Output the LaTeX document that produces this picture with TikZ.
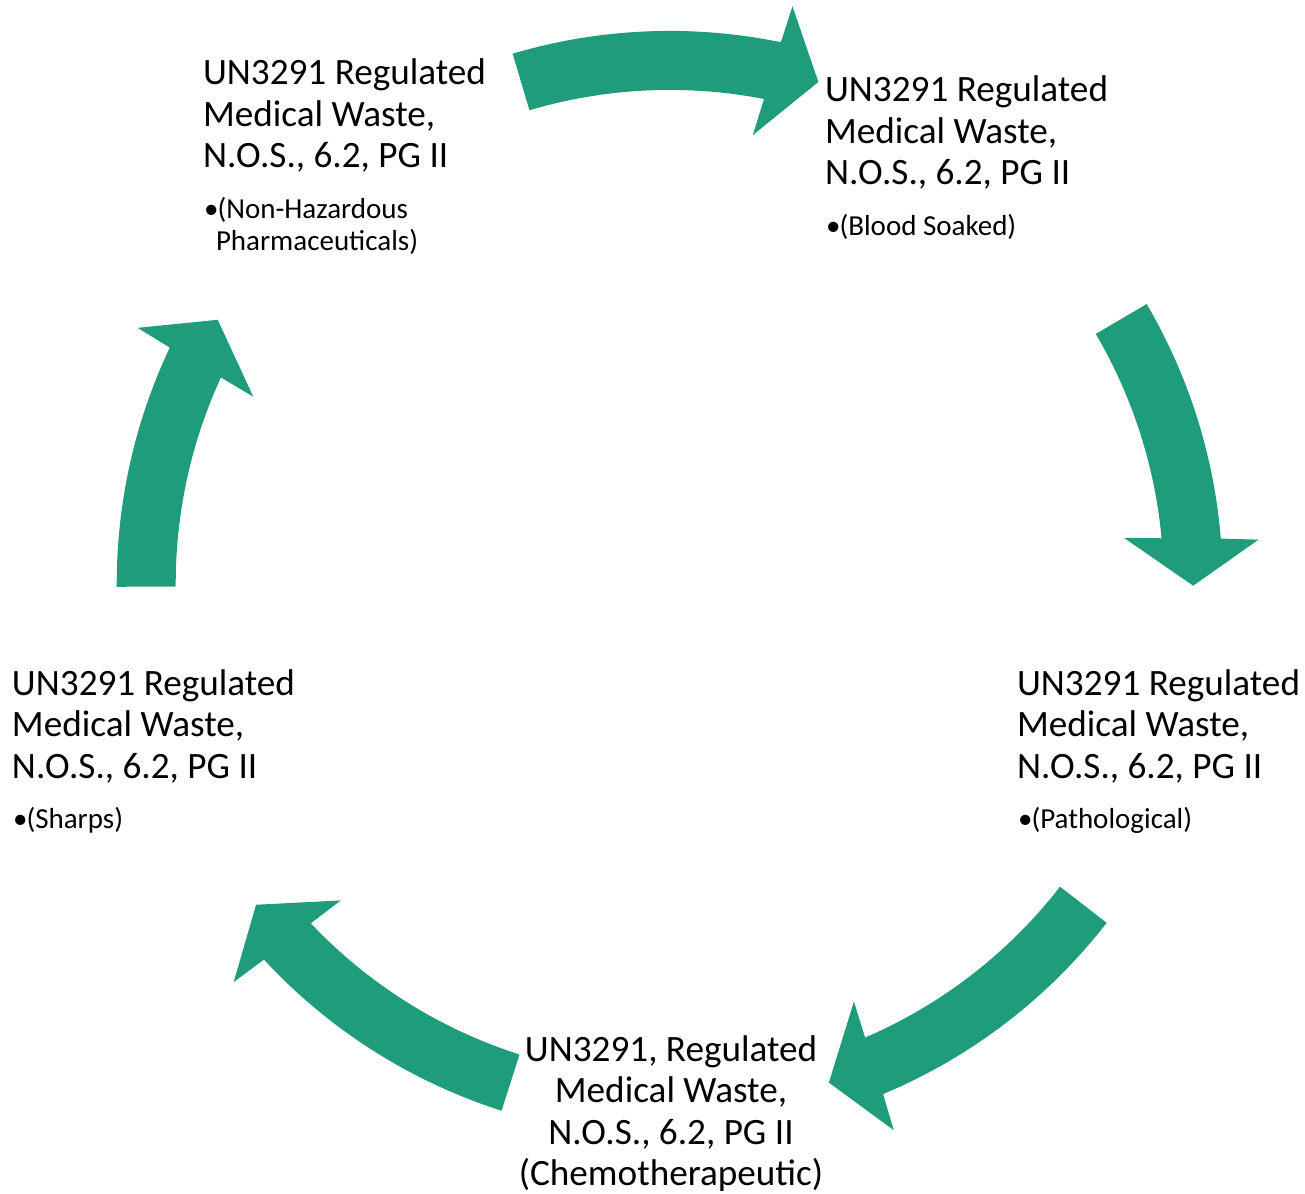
\documentclass[tikz,border=0pt]{standalone}
\usepackage{fontspec}
\setmainfont{Carlito}
\definecolor{cyclegreen}{RGB}{31,156,122}
\tikzset{
  maintxt/.style={inner sep=0pt, outer sep=0pt, font=\fontsize{37.2}{41.5}\selectfont, text=black},
  bullettxt/.style={inner sep=0pt, outer sep=0pt, font=\fontsize{29}{32}\selectfont, text=black},
  cyclearrow/.style={fill=cyclegreen, draw=none}
}
% \cyclearr{start}{neck}{tip}
\newcommand{\cyclearr}[3]{%
  \fill[cyclearrow]
    plot[domain=#1:#2+0.3, samples=40] ({\cx+(\R+\w)*cos(\x)},{\cy+(\R+\w)*sin(\x)})
    -- ({\cx+(\R+\W)*cos(#2+0.7)},{\cy+(\R+\W)*sin(#2+0.7)})
    -- ({\cx+\R*cos(#3)},{\cy+\R*sin(#3)})
    -- ({\cx+(\R-\W)*cos(#2-0.8)},{\cy+(\R-\W)*sin(#2-0.8)})
    -- plot[domain=#2-0.3:#1, samples=40] ({\cx+(\R-\w)*cos(\x)},{\cy+(\R-\w)*sin(\x)})
    -- cycle;}
\newcommand{\bul}{\makebox[13.5pt][l]{•}}
\begin{document}
\begin{tikzpicture}[x=1pt,y=-1pt]
\def\cx{669.7}\def\cy{583.9}\def\R{523.5}\def\w{29.5}\def\W{67}
\useasboundingbox[fill=white] (0,0) rectangle (1305,1193);
% arrows
\cyclearr{-106.5}{-78.7}{-73.5}
\cyclearr{-30.4}{-5.0}{0.2}
\cyclearr{37.8}{67.0}{72.3}
\cyclearr{107.7}{136.9}{142.2}
\cyclearr{179.7}{205.0}{210.3}
% texts
\node[maintxt, anchor=base west] (tl) at (203,85) {\parbox[t]{330pt}{UN3291 Regulated\\Medical Waste,\\N.O.S., 6.2, PG II}};
\node[bullettxt, anchor=base west] (tlb) at (204,218.3) {\parbox[t]{330pt}{\bul(Non-Hazardous\\\hspace*{12pt}Pharmaceuticals)}};
\node[maintxt, anchor=base west] (tr) at (825,101.7) {\parbox[t]{330pt}{UN3291 Regulated\\Medical Waste,\\N.O.S., 6.2, PG II}};
\node[bullettxt, anchor=base west] (trb) at (826,235) {\parbox[t]{330pt}{\bul(Blood Soaked)}};
\node[maintxt, anchor=base west] (r) at (1017,695) {\parbox[t]{330pt}{UN3291 Regulated\\Medical Waste,\\N.O.S., 6.2, PG II}};
\node[bullettxt, anchor=base west] (rb) at (1018,828.3) {\parbox[t]{330pt}{\bul(Pathological)}};
\node[maintxt, anchor=base west] (l) at (12,695) {\parbox[t]{330pt}{UN3291 Regulated\\Medical Waste,\\N.O.S., 6.2, PG II}};
\node[bullettxt, anchor=base west] (lb) at (13,828.3) {\parbox[t]{330pt}{\bul(Sharps)}};
\node[maintxt, anchor=base] (b) at (671,1061) {\parbox[t]{420pt}{\centering UN3291, Regulated\\Medical Waste,\\N.O.S., 6.2, PG II\\(Chemotherapeutic)}};
\end{tikzpicture}
\end{document}
